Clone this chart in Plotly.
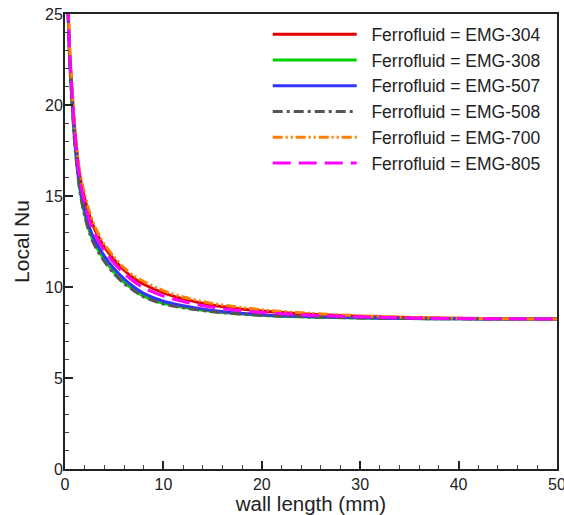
import plotly.graph_objects as go

x_mm = [0.3, 0.5, 0.75, 1, 1.5, 2, 2.5, 3, 4, 5, 6, 7, 8, 10, 12, 15, 20, 25, 30, 35, 40, 45, 50]

nu_emg304 = [25.7, 22.7, 20.5, 18.6, 16.15, 14.85, 13.9, 13.2, 12.2, 11.5, 10.92, 10.48, 10.15, 9.68, 9.35, 9.0, 8.68, 8.5, 8.39, 8.32, 8.28, 8.25, 8.24]
nu_emg308 = [25.3, 22.2, 19.9, 17.9, 15.4, 14.0, 13.05, 12.4, 11.5, 10.8, 10.25, 9.85, 9.5, 9.1, 8.88, 8.65, 8.45, 8.35, 8.3, 8.27, 8.25, 8.24, 8.24]
nu_emg507 = [25.4, 22.3, 20.1, 18.1, 15.6, 14.2, 13.25, 12.6, 11.7, 11.0, 10.45, 10.0, 9.65, 9.22, 8.97, 8.71, 8.48, 8.37, 8.31, 8.27, 8.25, 8.24, 8.24]
nu_emg508 = [25.2, 22.1, 19.8, 17.8, 15.3, 13.9, 12.95, 12.3, 11.4, 10.72, 10.18, 9.8, 9.46, 9.07, 8.86, 8.64, 8.44, 8.35, 8.3, 8.27, 8.25, 8.24, 8.24]
nu_emg700 = [25.8, 22.8, 20.6, 18.7, 16.3, 15.1, 14.1, 13.35, 12.35, 11.65, 11.05, 10.62, 10.3, 9.8, 9.45, 9.1, 8.75, 8.55, 8.42, 8.33, 8.28, 8.25, 8.24]
nu_emg805 = [25.6, 22.6, 20.4, 18.4, 15.95, 14.6, 13.6, 12.95, 12.0, 11.3, 10.75, 10.3, 9.95, 9.5, 9.2, 8.88, 8.6, 8.45, 8.36, 8.3, 8.27, 8.25, 8.24]

names = ["Ferrofluid = EMG-304", "Ferrofluid = EMG-308", "Ferrofluid = EMG-507",
         "Ferrofluid = EMG-508", "Ferrofluid = EMG-700", "Ferrofluid = EMG-805"]

series = [
    (names[0], nu_emg304, "#e00000", "solid"),
    (names[1], nu_emg308, "#00d000", "solid"),
    (names[2], nu_emg507, "#3333ff", "solid"),
    (names[3], nu_emg508, "#555555", "10px,4px,3px,4px"),
    (names[4], nu_emg700, "#ff8000", "10px,3px,2px,3px,2px,3px"),
    (names[5], nu_emg805, "#ff00ff", "18px,8px"),
]

fig = go.Figure()
for name, y, color, dash in series:
    fig.add_trace(go.Scatter(
        x=x_mm, y=y, mode="lines", name="\u00a0\u00a0" + name,
        line=dict(color=color, width=3, dash=dash, shape="spline", smoothing=0.8),
    ))

FONT = "Liberation Sans, Arial"
axis_common = dict(
    showgrid=False, zeroline=False, showline=True, linecolor="#222222", linewidth=2,
    mirror=True, ticks="inside", ticklen=8, tickwidth=2, tickcolor="#222222",
    tickfont=dict(family=FONT, size=16, color="#222222"),
)

fig.update_xaxes(
    range=[0, 50], dtick=10, tick0=0,
    minor=dict(dtick=2, ticks="inside", ticklen=4, tickwidth=1, tickcolor="#444444"),
    title=dict(text="wall length (mm)", font=dict(family=FONT, size=20.5, color="#222222"), standoff=0),
    ticklabeloverflow="allow", automargin="bottom",
    **axis_common,
)
fig.update_yaxes(
    range=[0, 25], dtick=5, tick0=0,
    minor=dict(dtick=1, ticks="inside", ticklen=4, tickwidth=1, tickcolor="#444444"),
    title=dict(text="Local Nu", font=dict(family=FONT, size=21, color="#222222"), standoff=10),
    ticklabelstandoff=-3, automargin=False,
    **axis_common,
)

fig.update_layout(
    width=564, height=515,
    margin=dict(l=65, r=7, t=14, b=43),
    paper_bgcolor="white", plot_bgcolor="white",
    font=dict(family=FONT, color="#222222"),
    legend=dict(
        x=0.412, y=0.995, xanchor="left", yanchor="top",
        bgcolor="rgba(0,0,0,0)", borderwidth=0,
        font=dict(family=FONT, size=17.5, color="#222222"),
        itemwidth=84, tracegroupgap=0,
    ),
)

fig.write_html("out.html")
